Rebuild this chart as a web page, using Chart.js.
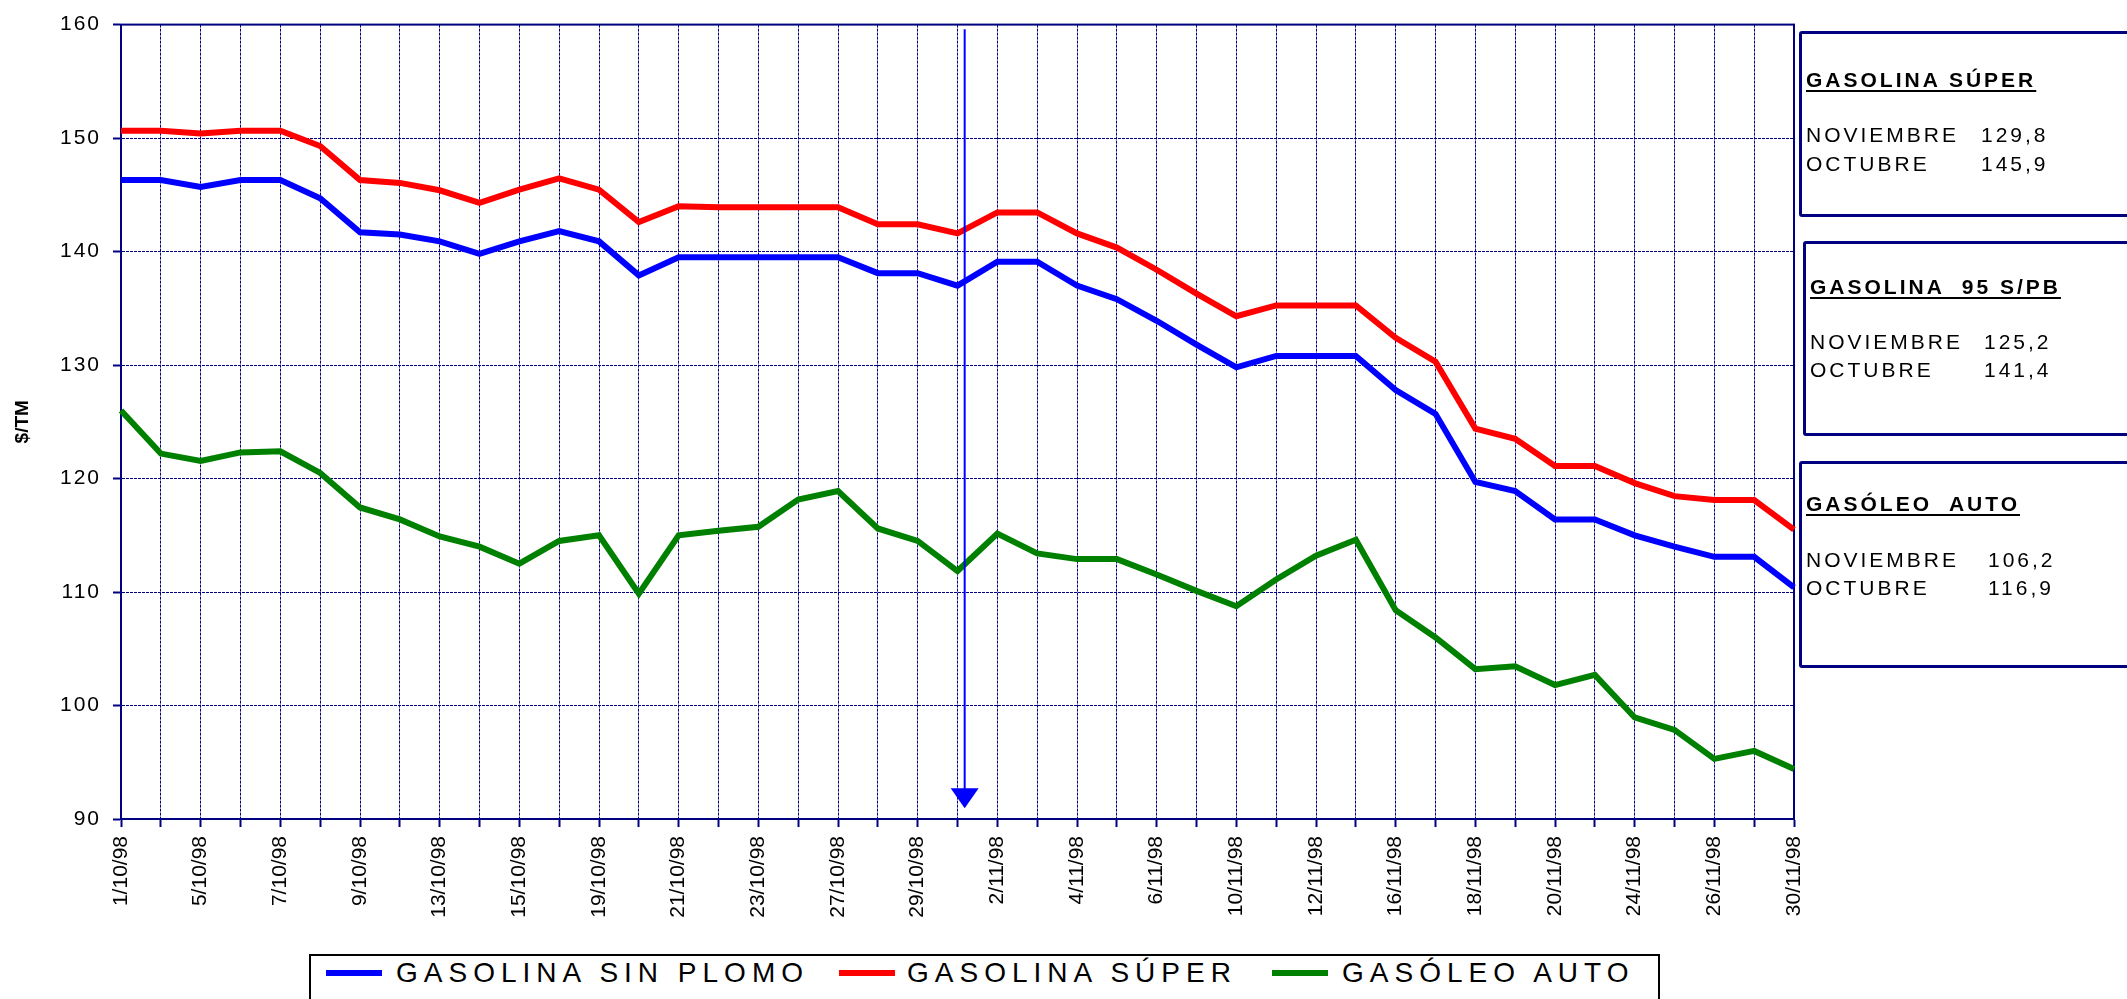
<!DOCTYPE html>
<html>
<head>
<meta charset="utf-8">
<script src="https://cdn.jsdelivr.net/npm/chart.js@4.4.1/dist/chart.umd.min.js"></script>
<style>
html,body{margin:0;padding:0;background:#fff;overflow:hidden;}
#wrap{position:relative;width:2127px;height:999px;overflow:hidden;font-family:'Liberation Sans',Arial,sans-serif;background:#fff;}
#chartBox{position:absolute;left:0;top:0;width:2127px;height:999px;}
.sbox{position:absolute;width:420px;border:3px solid #000080;border-radius:3px;box-sizing:border-box;}
.stext{position:absolute;font-size:21px;line-height:21px;letter-spacing:3px;white-space:pre;color:#000;}
.stitle{font-weight:bold;text-decoration:underline;text-decoration-thickness:2px;text-underline-offset:3px;}
#legend{position:absolute;left:309px;top:954px;width:1351px;height:70px;border:2px solid #000;box-sizing:border-box;background:#fff;}
.lsw{position:absolute;height:6px;width:56px;}
.ltx{position:absolute;font-size:28px;line-height:28px;letter-spacing:6px;white-space:pre;color:#000;}
</style>
</head>
<body>
<div id="wrap">
  <div id="chartBox"><canvas id="c"></canvas></div>
  <div id="summary"></div>
  <div id="legend"></div>
</div>
<script>
// ---- data ----
const dates = ['1/10/98','2/10/98','5/10/98','6/10/98','7/10/98','8/10/98','9/10/98','12/10/98','13/10/98','14/10/98',
  '15/10/98','16/10/98','19/10/98','20/10/98','21/10/98','22/10/98','23/10/98','26/10/98','27/10/98','28/10/98',
  '29/10/98','30/10/98','2/11/98','3/11/98','4/11/98','5/11/98','6/11/98','9/11/98','10/11/98','11/11/98',
  '12/11/98','13/11/98','16/11/98','17/11/98','18/11/98','19/11/98','20/11/98','23/11/98','24/11/98','25/11/98',
  '26/11/98','27/11/98','30/11/98'];

const sinPlomo = [146.3,146.3,145.7,146.3,146.3,144.7,141.7,141.5,140.9,139.8,
  140.9,141.8,140.9,137.9,139.5,139.5,139.5,139.5,139.5,138.1,
  138.1,137.0,139.1,139.1,137.0,135.8,133.9,131.8,129.8,130.8,
  130.8,130.8,127.8,125.7,119.7,118.9,116.4,116.4,115.0,114.0,
  113.1,113.1,110.4];

const super_ = [150.65,150.65,150.4,150.65,150.65,149.3,146.3,146.05,145.4,144.3,
  145.45,146.45,145.45,142.6,144.0,143.9,143.9,143.9,143.9,142.4,
  142.4,141.6,143.45,143.45,141.6,140.35,138.4,136.3,134.3,135.25,
  135.25,135.25,132.4,130.3,124.4,123.5,121.1,121.1,119.6,118.45,
  118.1,118.1,115.5];

const gasoleo = [126.0,122.2,121.55,122.3,122.4,120.5,117.45,116.4,114.9,114.0,
  112.5,114.5,115.0,109.85,115.0,115.4,115.75,118.15,118.9,115.6,
  114.5,111.85,115.15,113.4,112.9,112.9,111.55,110.1,108.75,111.1,
  113.2,114.6,108.4,106.0,103.2,103.45,101.8,102.7,98.95,97.85,
  95.3,96.0,94.4];

const seriesNames = ['GASOLINA SIN PLOMO','GASOLINA SÚPER','GASÓLEO AUTO'];
const yTicks = [90,100,110,120,130,140,150,160];
const yTitle = '$/TM';

// month change marker (category index and value range)
const monthMark = {index: 21.18, from: 159.6, to: 90.95};

// summary boxes
const summaryTitles = ['GASOLINA SÚPER','GASOLINA  95 S/PB','GASÓLEO  AUTO'];
const monthNames = ['NOVIEMBRE','OCTUBRE'];
const novAvg = ['129,8','125,2','106,2'];
const octAvg = ['145,9','141,4','116,9'];

// ---- styles / layout ----
const colors = ['#0000FF','#FF0000','#008000'];
const NAVY = '#000080';
const FONT = "'Liberation Sans', Arial, sans-serif";

const boxLayout = [
  {left:1799, top:31, height:186, tx:1806, vx:1981, ty:[69,124,153]},
  {left:1803, top:241, height:195, tx:1810, vx:1984, ty:[276,331,359]},
  {left:1799, top:461, height:207, tx:1806, vx:1988, ty:[493,549,577]}
];
const legendLayout = [[15,85],[528,596],[961,1031]];

Chart.defaults.font.family = FONT;
Chart.defaults.color = '#000';

const framePlugin = {
  id: 'frame',
  beforeDatasetsDraw(chart) {
    const {ctx, chartArea: a} = chart;
    ctx.save();
    ctx.strokeStyle = NAVY;
    ctx.lineWidth = 2;
    ctx.setLineDash([]);
    ctx.strokeRect(a.left, a.top, a.right - a.left, a.bottom - a.top);
    ctx.restore();
  }
};

const arrowPlugin = {
  id: 'arrow',
  afterDatasetsDraw(chart) {
    const {ctx} = chart;
    const xs = chart.scales.x, ys = chart.scales.y;
    const x = xs.getPixelForValue(monthMark.index);
    const y0 = ys.getPixelForValue(monthMark.from);
    const y1 = ys.getPixelForValue(monthMark.to);
    const headH = 20, headW = 14;
    ctx.save();
    ctx.strokeStyle = '#0000FF';
    ctx.fillStyle = '#0000FF';
    ctx.lineWidth = 2;
    ctx.beginPath();
    ctx.moveTo(x, y0);
    ctx.lineTo(x, y1 - headH + 1);
    ctx.stroke();
    ctx.beginPath();
    ctx.moveTo(x - headW, y1 - headH);
    ctx.lineTo(x + headW, y1 - headH);
    ctx.lineTo(x, y1);
    ctx.closePath();
    ctx.fill();
    ctx.restore();
  }
};

const spacingPlugin = {
  id: 'ySpacing',
  afterLayout(chart) {
    const s = chart.scales.y;
    if (s && !s.__wrapped) {
      const orig = s.drawLabels.bind(s);
      s.drawLabels = function(ca) {
        const ctx = this.ctx;
        ctx.save();
        ctx.letterSpacing = '2px';
        orig(ca);
        ctx.restore();
      };
      s.__wrapped = true;
    }
  }
};

const chart = new Chart(document.getElementById('c'), {
  type: 'line',
  data: {
    labels: dates,
    datasets: [
      {label: seriesNames[0], data: sinPlomo, borderColor: colors[0], backgroundColor: colors[0]},
      {label: seriesNames[1], data: super_, borderColor: colors[1], backgroundColor: colors[1]},
      {label: seriesNames[2], data: gasoleo, borderColor: colors[2], backgroundColor: colors[2]}
    ].map(d => Object.assign(d, {borderWidth: 6, pointRadius: 0, pointHoverRadius: 0, tension: 0, fill: false}))
  },
  options: {
    responsive: true,
    maintainAspectRatio: false,
    animation: false,
    events: [],
    layout: {padding: {top: 12, right: 333, left: 0, bottom: 0}},
    plugins: {legend: {display: false}, tooltip: {enabled: false}},
    scales: {
      x: {
        type: 'category',
        offset: false,
        afterFit(scale) { scale.height = 180; },
        grid: {color: NAVY, lineWidth: 1, drawTicks: true, tickLength: 8, tickColor: NAVY, tickWidth: 2, tickBorderDash: []},
        border: {display: true, color: NAVY, width: 2, dash: [3, 1]},
        ticks: {
          autoSkip: false, minRotation: 90, maxRotation: 90, padding: 9,
          font: {size: 21}, color: '#000',
          callback(v, i) { return i % 2 === 0 ? dates[i] : ''; }
        }
      },
      y: {
        min: yTicks[0], max: yTicks[yTicks.length - 1],
        afterFit(scale) { scale.width = 121; },
        afterBuildTicks(scale) { scale.ticks = yTicks.map(v => ({value: v})); },
        grid: {color: NAVY, lineWidth: 1, drawTicks: true, tickLength: 8, tickColor: NAVY, tickWidth: 2, tickBorderDash: []},
        border: {display: true, color: NAVY, width: 2, dash: [3, 1]},
        ticks: {padding: 12, font: {size: 21}, color: '#000'},
        title: {display: true, text: yTitle, font: {size: 19, weight: 'bold'}, color: '#000', padding: {top: 11, bottom: 0}}
      }
    }
  },
  plugins: [framePlugin, arrowPlugin, spacingPlugin]
});

// summary boxes (text)
const summary = document.getElementById('summary');
summaryTitles.forEach((t, i) => {
  const L = boxLayout[i];
  const b = document.createElement('div');
  b.className = 'sbox';
  b.style.left = L.left + 'px'; b.style.top = L.top + 'px'; b.style.height = L.height + 'px';
  summary.appendChild(b);
  const mk = (txt, x, y, cls) => {
    const d = document.createElement('div');
    d.className = 'stext' + (cls ? ' ' + cls : '');
    d.textContent = txt; d.style.left = x + 'px'; d.style.top = y + 'px';
    summary.appendChild(d);
  };
  mk(t, L.tx, L.ty[0], 'stitle');
  mk(monthNames[0], L.tx, L.ty[1]);
  mk(novAvg[i], L.vx, L.ty[1]);
  mk(monthNames[1], L.tx, L.ty[2]);
  mk(octAvg[i], L.vx, L.ty[2]);
});

// legend built from the chart's datasets
const legend = document.getElementById('legend');
chart.data.datasets.forEach((ds, i) => {
  const sw = document.createElement('div');
  sw.className = 'lsw';
  sw.style.background = ds.borderColor;
  sw.style.left = legendLayout[i][0] + 'px';
  sw.style.top = '14px';
  legend.appendChild(sw);
  const tx = document.createElement('div');
  tx.className = 'ltx';
  tx.textContent = ds.label;
  tx.style.left = legendLayout[i][1] + 'px';
  tx.style.top = '3px';
  legend.appendChild(tx);
});
</script>
</body>
</html>
